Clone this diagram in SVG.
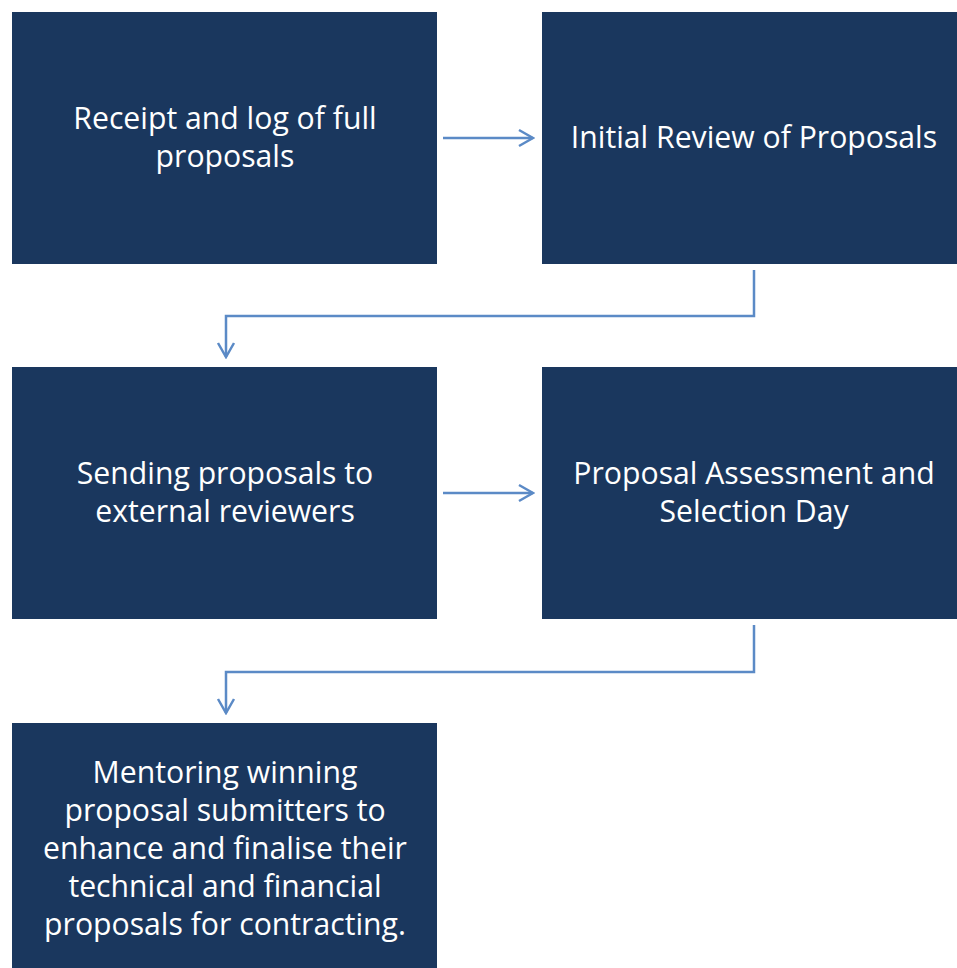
<svg xmlns="http://www.w3.org/2000/svg" width="957" height="968" viewBox="0 0 957 968">
<defs>
<style>
.box{fill:#1a375e;}
.t{fill:#ffffff;font-family:"Open Sans","Liberation Sans",sans-serif;font-size:30.2px;text-anchor:middle;}
.c{fill:none;stroke:#5b8ac6;stroke-width:2.5;}
</style>
<marker id="ah" viewBox="0 0 20 20" refX="18" refY="10" markerWidth="20" markerHeight="20" markerUnits="userSpaceOnUse" orient="auto">
<path d="M4,2 L18,10 L4,18" fill="none" stroke="#5b8ac6" stroke-width="2.5"/>
</marker>
</defs>
<rect width="957" height="968" fill="#ffffff"/>
<g id="connectors">
<path class="c" d="M443,138 L533,138" marker-end="url(#ah)"/>
<path class="c" d="M754,270 L754,316 L226,316 L226,357" marker-end="url(#ah)"/>
<path class="c" d="M443,493 L533,493" marker-end="url(#ah)"/>
<path class="c" d="M754,625 L754,672 L226,672 L226,713" marker-end="url(#ah)"/>
</g>
<g id="n1"><rect class="box" x="12" y="12" width="425" height="252"/>
<text class="t" x="225" y="129">Receipt and log of full</text>
<text class="t" x="225" y="167">proposals</text></g>
<g id="n2"><rect class="box" x="542" y="12" width="425" height="252"/>
<text class="t" x="754" y="148">Initial Review of Proposals</text></g>
<g id="n3"><rect class="box" x="12" y="367" width="425" height="252"/>
<text class="t" x="225" y="484">Sending proposals to</text>
<text class="t" x="225" y="522">external reviewers</text></g>
<g id="n4"><rect class="box" x="542" y="367" width="425" height="252"/>
<text class="t" x="754" y="484">Proposal Assessment and</text>
<text class="t" x="754" y="522">Selection Day</text></g>
<g id="n5"><rect class="box" x="12" y="723" width="425" height="252"/>
<text class="t" x="225" y="783">Mentoring winning</text>
<text class="t" x="225" y="821">proposal submitters to</text>
<text class="t" x="225" y="859">enhance and finalise their</text>
<text class="t" x="225" y="897">technical and financial</text>
<text class="t" x="225" y="935">proposals for contracting.</text></g>
</svg>
